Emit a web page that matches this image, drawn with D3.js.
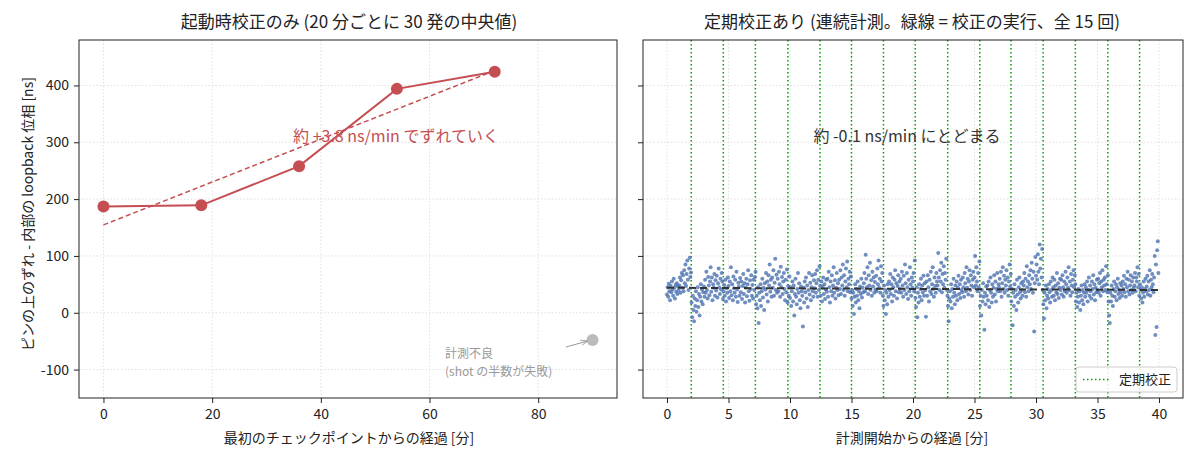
<!DOCTYPE html>
<html>
<head>
<meta charset="utf-8">
<script src="https://cdn.jsdelivr.net/npm/d3@7"></script>
<style>
  body { margin: 0; background: #fff; }
  svg { font-family: "Noto Sans CJK JP", "Noto Sans", sans-serif; }
</style>
</head>
<body>
<script>
// left panel: median of 30 shots every ~18 min, startup calibration only
const checkMinutes = [0, 18, 36, 54, 72]
const checkPhase = [187, 189, 258, 394, 424]
const badMinute = 90
const badPhase = -48

// right panel: continuous measurement, calibration times (minutes)
const calibMinutes = [1.97, 4.58, 7.19, 9.83, 12.44, 15.0, 17.6, 20.18, 22.82, 25.43,
                      27.97, 30.58, 33.2, 35.84, 38.42]
const sampleStep = 0.05 // minutes between samples
// one row per minute
const contPhase = [
  32,45,28,51,38,22,47,36,55,41,30,60,44,25,49,37,52,33,46,40,
  48,62,35,57,70,44,66,38,75,52,85,47,68,92,58,40,78,97,63,71,
  18,-8,30,5,-15,25,12,38,2,22,45,10,33,-5,28,50,20,41,15,36,
  46,28,58,35,72,40,25,63,48,31,55,80,37,62,22,50,44,68,30,57,
  39,65,27,52,78,45,33,60,41,70,55,24,38,49,30,58,20,43,35,62,
  47,26,55,38,80,31,50,22,64,43,35,58,28,72,41,19,53,46,30,61,
  36,55,24,47,68,33,52,18,44,60,29,50,75,38,21,57,42,66,30,49,
  25,58,40,63,72,15,30,8,45,-18,35,22,50,12,38,60,27,44,5,52,
  41,70,32,55,20,66,48,85,37,58,28,62,44,75,30,53,95,40,67,35,
  60,38,72,50,28,81,45,63,33,55,70,42,22,58,36,76,18,47,30,64,
  26,45,12,38,55,20,48,-5,33,60,28,15,42,70,35,52,22,8,46,38,
  30,-24,44,18,55,36,62,25,48,10,40,70,32,53,22,45,66,38,28,57,
  43,68,35,52,75,28,58,40,82,47,30,55,20,46,62,33,50,24,41,58,
  37,60,28,72,45,18,55,38,66,30,48,80,35,57,25,44,70,40,52,31,
  58,42,75,33,62,48,85,40,66,30,55,78,45,90,38,60,50,72,36,64,
  25,40,12,35,-2,28,50,18,42,30,55,22,38,8,46,33,60,27,44,36,
  52,70,38,102,60,45,80,33,66,48,88,40,57,30,72,46,62,35,54,41,
  65,38,78,50,92,44,60,35,82,55,70,30,12,48,22,40,-2,35,15,50,
  28,55,40,68,33,50,20,62,45,30,58,75,38,52,25,47,66,36,55,42,
  60,35,72,48,28,65,40,85,52,33,70,45,24,58,38,80,50,30,62,44,
  55,70,38,92,26,10,45,-8,35,18,50,28,42,60,22,48,36,65,30,52,
  40,-7,55,30,66,45,20,58,38,72,33,50,80,42,28,62,47,35,70,55,
  48,105,62,40,75,55,88,36,68,50,82,44,70,58,95,40,30,12,-15,25,
  38,20,50,8,42,28,60,35,15,48,30,55,22,44,65,33,50,26,58,40,
  36,62,45,28,70,52,38,80,44,60,32,55,75,40,66,48,30,58,72,45,
  62,100,48,80,55,38,70,45,90,12,30,-5,40,20,52,28,-30,35,15,46,
  30,48,22,55,10,40,62,35,18,50,28,44,66,32,55,20,42,70,38,50,
  45,60,38,72,28,52,80,42,65,35,58,48,75,40,62,30,55,85,46,68,
  20,42,-22,35,12,50,28,40,5,58,32,18,45,62,36,25,52,40,30,55,
  48,70,36,60,28,82,45,55,38,66,50,75,42,88,60,35,72,-33,52,98,
  65,85,58,103,72,50,120,78,95,62,112,40,15,-10,35,22,48,8,30,42,
  25,50,36,18,55,40,28,62,45,30,58,22,48,36,70,33,52,26,44,60,
  40,58,32,66,45,28,55,38,72,50,35,62,44,80,40,55,30,68,48,36,
  58,75,45,66,50,20,35,10,28,42,18,38,5,30,48,22,40,15,35,50,
  28,45,35,55,20,40,62,30,48,38,25,55,42,66,32,50,22,44,36,58,
  40,60,35,52,70,30,55,45,75,38,58,48,62,40,82,50,36,66,20,-5,
  -18,35,20,48,30,12,42,55,28,38,50,22,45,60,33,40,26,52,36,48,
  30,55,42,65,36,50,28,60,45,72,38,58,32,48,66,40,55,35,62,44,
  48,70,38,62,55,80,45,68,30,50,40,25,45,18,35,55,28,42,60,38,
  46,65,32,55,40,75,30,58,45,68,50,36,62,100,-39,85,-25,110,126,70
]
// fitted trend reported in the chart
const contSlope = -0.1
const contIntercept = 44

const leftXTicks = [0, 20, 40, 60, 80]
const rightXTicks = [0, 5, 10, 15, 20, 25, 30, 35, 40]
const yTicks = [-100, 0, 100, 200, 300, 400]

const red = '#c44e52'
const blue = '#4c72b0'
const green = '#00a000'

const w = 1200, h = 459
const plotTop = 40, plotBottom = 398

const svg = d3.select('body').append('svg')
    .attr('width', w).attr('height', h)

const y = d3.scaleLinear().domain([-150, 480]).range([plotBottom, plotTop])
const xL = d3.scaleLinear().domain([-4.5, 94.5]).range([79, 617])
const xR = d3.scaleLinear().domain([-1.95, 41.95]).range([643, 1183])

const fmt = d => String(d)

function panel(x, xTicks, showYLabels) {
    const g = svg.append('g')
    const [x0, x1] = x.range()
    // grid
    g.append('g').selectAll('line').data(xTicks).enter().append('line')
        .attr('x1', d => x(d)).attr('x2', d => x(d))
        .attr('y1', plotTop).attr('y2', plotBottom)
        .attr('stroke', '#d8d8d8').attr('stroke-width', 0.8).attr('stroke-dasharray', '1.5,2')
    g.append('g').selectAll('line').data(yTicks).enter().append('line')
        .attr('x1', x0).attr('x2', x1)
        .attr('y1', d => y(d)).attr('y2', d => y(d))
        .attr('stroke', '#d8d8d8').attr('stroke-width', 0.8).attr('stroke-dasharray', '1.5,2')

    const xAxis = g.append('g').attr('transform', `translate(0,${plotBottom})`)
        .call(d3.axisBottom(x).tickValues(xTicks).tickFormat(fmt).tickSize(5).tickPadding(6))
    const yAxis = g.append('g').attr('transform', `translate(${x0},0)`)
        .call(d3.axisLeft(y).tickValues(yTicks).tickFormat(showYLabels ? fmt : '').tickSize(5).tickPadding(5))
    for (const a of [xAxis, yAxis]) {
        a.select('.domain').remove()
        a.selectAll('text').attr('font-size', 14).attr('fill', '#222')
            .attr('font-family', '"Noto Sans CJK JP", sans-serif')
        a.selectAll('line').attr('stroke', '#222')
    }
    return g
}

const gL = panel(xL, leftXTicks, true)
const gR = panel(xR, rightXTicks, false)

// ---- left panel marks
const leftPts = checkMinutes.map((m, i) => ({m: m, v: checkPhase[i]}))
const mx = d3.mean(checkMinutes), my = d3.mean(checkPhase)
const slope = d3.sum(leftPts, d => (d.m - mx) * (d.v - my)) / d3.sum(leftPts, d => (d.m - mx) ** 2)
const inter = my - slope * mx
const ext = d3.extent(checkMinutes)

gL.append('line')
    .attr('x1', xL(ext[0])).attr('y1', y(inter + slope * ext[0]))
    .attr('x2', xL(ext[1])).attr('y2', y(inter + slope * ext[1]))
    .attr('stroke', red).attr('stroke-width', 1.5).attr('stroke-dasharray', '5,3')

gL.append('path').datum(leftPts)
    .attr('d', d3.line().x(d => xL(d.m)).y(d => y(d.v)))
    .attr('fill', 'none').attr('stroke', red).attr('stroke-width', 2)

gL.selectAll('circle.pt').data(leftPts).enter().append('circle')
    .attr('cx', d => xL(d.m)).attr('cy', d => y(d.v)).attr('r', 6)
    .attr('fill', red)

gL.append('circle').attr('cx', xL(badMinute)).attr('cy', y(badPhase)).attr('r', 6)
    .attr('fill', '#bbbbbb')

// arrow to bad point
svg.append('defs').append('marker')
    .attr('id', 'ah').attr('viewBox', '0 0 10 10').attr('refX', 10).attr('refY', 5)
    .attr('markerWidth', 7).attr('markerHeight', 7).attr('orient', 'auto')
    .append('path').attr('d', 'M0,1 L10,5 L0,9').attr('fill', 'none').attr('stroke', '#999').attr('stroke-width', 1.2)
gL.append('line')
    .attr('x1', 566).attr('y1', 347).attr('x2', xL(badMinute) - 5).attr('y2', y(badPhase) + 1)
    .attr('stroke', '#999').attr('stroke-width', 1).attr('marker-end', 'url(#ah)')

gL.append('text').attr('x', 445).attr('y', 358)
    .attr('font-size', 12).attr('fill', '#999').text('計測不良')
gL.append('text').attr('x', 445).attr('y', 375.5)
    .attr('font-size', 12).attr('fill', '#999').text('(shot の半数が失敗)')

gL.append('text').attr('x', 396).attr('y', 142).attr('text-anchor', 'middle')
    .attr('font-size', 16).attr('fill', red).text('約 +3.8 ns/min でずれていく')

// ---- right panel marks
gR.selectAll('line.cal').data(calibMinutes).enter().append('line')
    .attr('x1', d => xR(d)).attr('x2', d => xR(d))
    .attr('y1', plotTop).attr('y2', plotBottom)
    .attr('stroke', green).attr('stroke-width', 1.5).attr('stroke-dasharray', '1.5,2.5')

gR.append('g').selectAll('circle').data(contPhase).enter().append('circle')
    .attr('cx', (d, i) => xR(i * sampleStep)).attr('cy', d => y(d)).attr('r', 2)
    .attr('fill', blue).attr('opacity', 0.8)

const tEnd = (contPhase.length - 1) * sampleStep
gR.append('line')
    .attr('x1', xR(0)).attr('y1', y(contIntercept))
    .attr('x2', xR(tEnd)).attr('y2', y(contIntercept + contSlope * tEnd))
    .attr('stroke', '#333').attr('stroke-width', 2).attr('stroke-dasharray', '7,4')

gR.append('text').attr('x', 907).attr('y', 142).attr('text-anchor', 'middle')
    .attr('font-size', 16).attr('fill', '#333').text('約 -0.1 ns/min にとどまる')

// legend
const lg = gR.append('g')
lg.append('rect').attr('x', 1076).attr('y', 367).attr('width', 101).attr('height', 25).attr('rx', 3)
    .attr('fill', 'white').attr('fill-opacity', 0.85).attr('stroke', '#ccc')
lg.append('line').attr('x1', 1083).attr('x2', 1110).attr('y1', 379.5).attr('y2', 379.5)
    .attr('stroke', green).attr('stroke-width', 1.5).attr('stroke-dasharray', '1.5,2.5')
lg.append('text').attr('x', 1119).attr('y', 384).attr('font-size', 13).attr('fill', '#222').text('定期校正')

// spines
for (const x of [xL, xR]) {
    const [x0, x1] = x.range()
    svg.append('rect').attr('x', x0).attr('y', plotTop).attr('width', x1 - x0).attr('height', plotBottom - plotTop)
        .attr('fill', 'none').attr('stroke', '#222').attr('stroke-width', 1)
}

// titles and labels
svg.append('text').attr('x', 349).attr('y', 28).attr('text-anchor', 'middle')
    .attr('font-size', 17).attr('fill', '#222').text('起動時校正のみ (20 分ごとに 30 発の中央値)')
svg.append('text').attr('x', 912).attr('y', 28).attr('text-anchor', 'middle')
    .attr('font-size', 17).attr('fill', '#222').text('定期校正あり (連続計測。緑線 = 校正の実行、全 15 回)')
svg.append('text').attr('x', 349).attr('y', 443).attr('text-anchor', 'middle')
    .attr('font-size', 14).attr('fill', '#222').text('最初のチェックポイントからの経過 [分]')
svg.append('text').attr('x', 912).attr('y', 443).attr('text-anchor', 'middle')
    .attr('font-size', 14).attr('fill', '#222').text('計測開始からの経過 [分]')
svg.append('text').attr('transform', 'translate(33,214) rotate(-90)').attr('text-anchor', 'middle')
    .attr('font-size', 14).attr('fill', '#222').text('ピンの上のずれ - 内部の loopback 位相 [ns]')
</script>
</body>
</html>
